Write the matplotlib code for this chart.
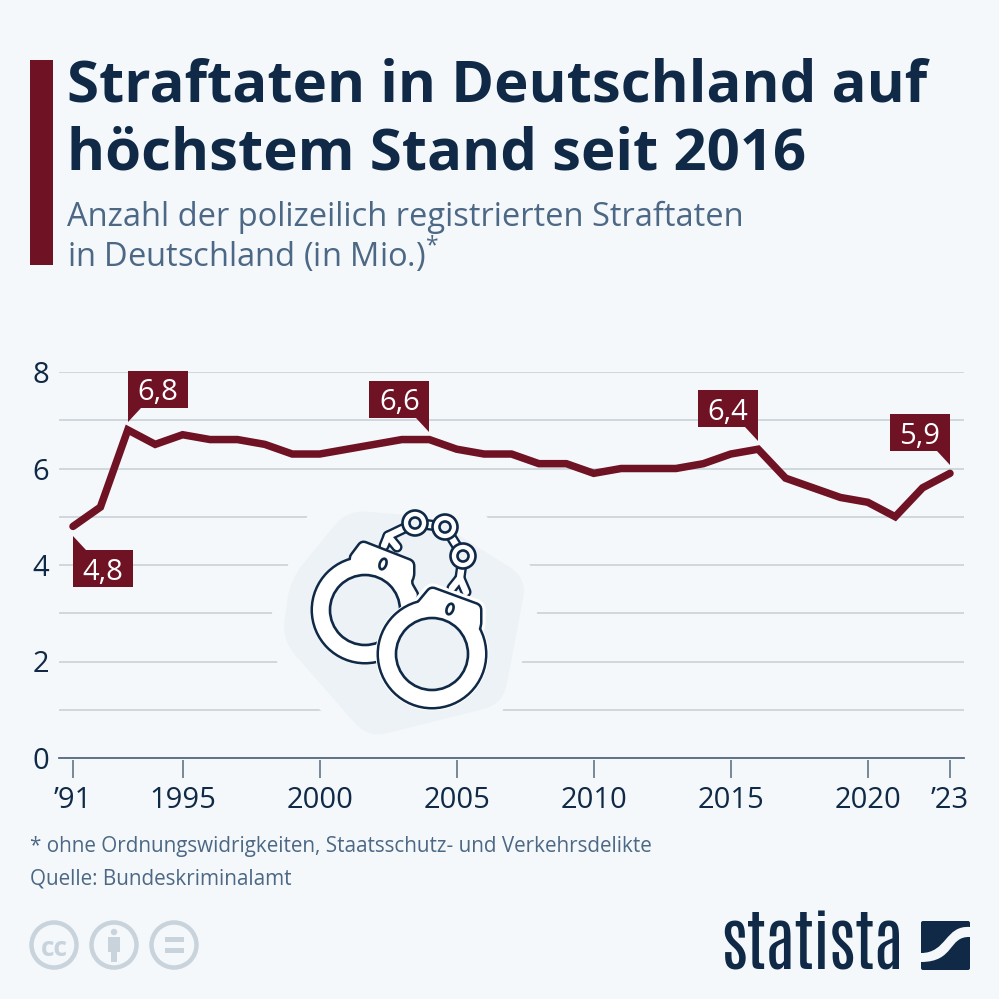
import matplotlib
matplotlib.use("Agg")
import matplotlib.pyplot as plt
import numpy as np
from matplotlib.patches import Polygon, Circle, Rectangle, PathPatch, Ellipse
from matplotlib.path import Path

years = list(range(1991, 2024))
values = [4.8, 5.2, 6.8, 6.5, 6.7, 6.6, 6.6, 6.5, 6.3, 6.3, 6.4, 6.5, 6.6, 6.6, 6.4, 6.3, 6.3,
          6.1, 6.1, 5.9, 6.0, 6.0, 6.0, 6.1, 6.3, 6.4, 5.8, 5.6, 5.4, 5.3, 5.0, 5.6, 5.9]
x_ticks = [1991, 1995, 2000, 2005, 2010, 2015, 2020, 2023]
x_labels = ["’91", "1995", "2000", "2005", "2010", "2015", "2020", "’23"]
y_ticks = [0, 2, 4, 6, 8]
callouts = [(1991, "4,8", "below-right"), (1993, "6,8", "above-right"), (2004, "6,6", "above-left"),
            (2016, "6,4", "above-left"), (2023, "5,9", "above-left")]
title_lines = ["Straftaten in Deutschland auf", "höchstem Stand seit 2016"]
subtitle_lines = ["Anzahl der polizeilich registrierten Straftaten", "in Deutschland (in Mio.)$^{*}$"]
note = "* ohne Ordnungswidrigkeiten, Staatsschutz- und Verkehrsdelikte"
source = "Quelle: Bundeskriminalamt"

BG = "#f4f8fb"; MAROON = "#6f1324"; NAVY = "#0f2946"; SUB = "#4c6885"; GRID = "#c6ced4"
BLOB = "#edf2f6"; CC = "#c8d3db"; AXIS = "#55697f"
W = H = 999
plt.rcParams["font.family"] = ["Open Sans", "DejaVu Sans"]
plt.rcParams["mathtext.fontset"] = "custom"
plt.rcParams["mathtext.rm"] = "Open Sans"

fig = plt.figure(figsize=(9.99, 9.99), dpi=100, facecolor=BG)

px_per_year = (950 - 73) / 32
px_per_unit = (758 - 372) / 8
x0 = 1991 - (73 - 59) / px_per_year
x1 = 1991 + (964 - 73) / px_per_year
rect = [59 / W, 1 - 758 / H, (964 - 59) / W, (758 - 372) / H]

# base axes: grid, axis line, labels
ax = fig.add_axes(rect, facecolor="none")
ax.set_xlim(x0, x1); ax.set_ylim(0, 8)
for s in ["top", "left", "right"]:
    ax.spines[s].set_visible(False)
ax.spines["bottom"].set_color(AXIS); ax.spines["bottom"].set_linewidth(1.3)
ax.set_yticks(y_ticks); ax.set_yticks(range(0, 9), minor=True)
ax.tick_params(axis="y", which="both", length=0, pad=7)
ax.set_yticklabels([str(v) for v in y_ticks], fontsize=21, color=NAVY)
ax.set_xticks(x_ticks); ax.set_xticklabels(x_labels, fontsize=21, color=NAVY)
ax.tick_params(axis="x", length=0, pad=20)
ax.vlines(x_ticks, -0.04, -0.415, color=AXIS, lw=1.1, clip_on=False)
ax.grid(axis="y", which="both", color=GRID, lw=1.1)
ax.set_axisbelow(True)
ax.set_zorder(1)

# emblem layer in pixel coordinates
ov = fig.add_axes([0, 0, 1, 1], facecolor="none")
ov.set_xlim(0, W); ov.set_ylim(H, 0); ov.axis("off"); ov.set_zorder(2)

def rounded(pts, r):
    pts = np.array(pts, float); n = len(pts); v = []; c = []
    for i in range(n):
        p, a, b = pts[i], pts[i - 1], pts[(i + 1) % n]
        ra = min(r, np.linalg.norm(a - p) / 2); rb = min(r, np.linalg.norm(b - p) / 2)
        pa = p + (a - p) / np.linalg.norm(a - p) * ra
        pb = p + (b - p) / np.linalg.norm(b - p) * rb
        v += [pa, p, pb]; c += [Path.MOVETO if i == 0 else Path.LINETO, Path.CURVE3, Path.CURVE3]
    v.append(v[0]); c.append(Path.CLOSEPOLY)
    return Path(v, c)

clear = [(315, 505), (480, 505), (487, 517), (530, 565), (537, 613), (522, 662), (503, 710), (495, 722),
         (340, 722), (320, 710), (277, 662), (272, 613), (288, 565), (307, 517)]
blob = [(347, 510), (430, 517), (527, 578), (503, 704), (368, 738), (282, 640), (290, 580)]
ov.add_patch(Polygon(clear, fc=BG, ec="none", zorder=1))
ov.add_patch(PathPatch(rounded(blob, 20), fc=BLOB, ec="none", zorder=2))

lw = 1.9
chain = [[(388, 536), (415, 523)], [(415, 523), (445, 527)], [(445, 527), (463, 556)], [(463, 556), (460, 578)],
         [(384, 546), (388, 536), (397, 547)], [(452, 588), (460, 578), (466, 592)]]
for seg in chain:
    xs, ys = zip(*seg)
    ov.plot(xs, ys, color=NAVY, lw=8, zorder=3, solid_capstyle="round", solid_joinstyle="round")
for seg in chain:
    xs, ys = zip(*seg)
    ov.plot(xs, ys, color="white", lw=4.6, zorder=3.1, solid_capstyle="round", solid_joinstyle="round")
for cx, cy in [(415, 523), (445, 527), (463, 556)]:
    ov.add_patch(Circle((cx, cy), 12.5, fc="white", ec=NAVY, lw=lw, zorder=3.2))
    ov.add_patch(Circle((cx, cy), 5.5, fc=BLOB, ec=NAVY, lw=lw, zorder=3.3))

def cuff(cx, cy, ro, ri, head, slot, z, halo=False):
    hp = rounded(head, 4)
    if halo:
        ov.add_patch(Circle((cx, cy), ro + 3.5, fc="white", ec="none", zorder=z - 0.1))
        ov.add_patch(PathPatch(hp, fc="white", ec="white", lw=8, zorder=z - 0.1))
    ov.add_patch(PathPatch(hp, fc=NAVY, ec=NAVY, lw=3.6, zorder=z))
    ov.add_patch(Circle((cx, cy), ro, fc=NAVY, ec=NAVY, lw=3.6, zorder=z))
    ov.add_patch(PathPatch(hp, fc="white", ec="none", zorder=z + 0.1))
    ov.add_patch(Circle((cx, cy), ro, fc="white", ec="none", zorder=z + 0.1))
    ov.add_patch(Circle((cx, cy), ri, fc=BLOB, ec=NAVY, lw=lw, zorder=z + 0.2))
    ov.add_patch(Ellipse(slot, 6.5, 11, angle=20, fc="white", ec=NAVY, lw=lw, zorder=z + 0.3))

cuff(365, 610, 52, 35, [(350, 558), (362, 542), (413, 562), (413, 577), (410, 582), (418, 596), (400, 612), (360, 590)],
     (383, 564), 5)
cuff(432, 654, 53, 36, [(416, 606), (431, 588), (480, 606), (480, 626), (477, 632), (484, 650), (440, 640)],
     (450, 609), 7, halo=True)

# series layer
lax = fig.add_axes(rect, facecolor="none", sharex=ax, sharey=ax)
lax.axis("off"); lax.set_zorder(3)
lax.plot(years, values, color=MAROON, lw=5.4, solid_joinstyle="miter", solid_capstyle="round", clip_on=False)

# text and callouts
top = fig.add_axes([0, 0, 1, 1], facecolor="none")
top.set_xlim(0, W); top.set_ylim(H, 0); top.axis("off"); top.set_zorder(4)
lookup = dict(zip(years, values))
bw, bh, tip_gap, tail_h, tail_w = 60, 37, 8, 14, 13
for yr, txt, pos in callouts:
    px = 73 + (yr - 1991) * px_per_year
    py = 758 - lookup[yr] * px_per_unit
    if pos.startswith("above"):
        tip = py - tip_gap
        by1 = tip - tail_h; by0 = by1 - bh; base = by1
    else:
        tip = py + tip_gap + 2
        by0 = tip + tail_h; by1 = by0 + bh; base = by0
    if pos.endswith("right"):
        bx0 = px; bx1 = px + bw; tail = [(px, tip), (px, base), (px + tail_w, base)]
    else:
        bx1 = px; bx0 = px - bw; tail = [(px, tip), (px, base), (px - tail_w, base)]
    top.add_patch(Rectangle((bx0, by0), bw, bh, fc=MAROON, ec="none"))
    top.add_patch(Polygon(tail, fc=MAROON, ec="none"))
    top.text((bx0 + bx1) / 2, (by0 + by1) / 2, txt, color="white", fontsize=21, fontweight=500,
             ha="center", va="center_baseline")

top.add_patch(Rectangle((30, 60), 23, 205, fc=MAROON, ec="none"))
for t, y in zip(title_lines, [102, 169]):
    top.text(67, y, t, fontsize=41.9, fontweight="bold", color=NAVY, va="baseline", ha="left")
for t, y in zip(subtitle_lines, [226, 266]):
    top.text(67, y, t, fontsize=23.5, color=SUB, va="baseline", ha="left")

top.text(30, 852, note, fontsize=14.9, color=SUB, va="baseline")
top.text(30, 884, source, fontsize=14.9, color=SUB, va="baseline")

for cx in [54, 114, 174]:
    top.add_patch(Circle((cx, 945), 22.5, fc="none", ec=CC, lw=3.2))
top.text(54, 945, "cc", fontsize=19, fontweight="bold", color=CC, ha="center", va="center_baseline")
top.add_patch(Circle((114, 932), 3.2, fc=CC, ec="none"))
top.add_patch(Rectangle((108, 937), 12, 15, fc=CC, ec="none"))
top.add_patch(Rectangle((111, 950), 6, 12, fc=CC, ec="none"))
top.add_patch(Rectangle((165, 937), 19, 5, fc=CC, ec="none"))
top.add_patch(Rectangle((165, 948), 19, 5, fc=CC, ec="none"))

top.text(721, 969, "statista", fontsize=47, fontweight="bold", family=["Antonio", "Anton", "Liberation Sans"],
         color=NAVY, ha="left", va="baseline")
top.add_patch(PathPatch(rounded([(921, 921), (970, 921), (970, 970), (921, 970)], 2), fc=NAVY, ec="none"))
band = Path([(970, 927), (945, 925), (947, 953), (921, 953), (921, 962), (955, 962), (948, 936), (970, 937), (970, 927)],
            [Path.MOVETO, Path.CURVE4, Path.CURVE4, Path.CURVE4, Path.LINETO, Path.CURVE4, Path.CURVE4, Path.CURVE4, Path.CLOSEPOLY])
top.add_patch(PathPatch(band, fc=BG, ec="none"))

fig.savefig("out.png", dpi=100, facecolor=BG)
